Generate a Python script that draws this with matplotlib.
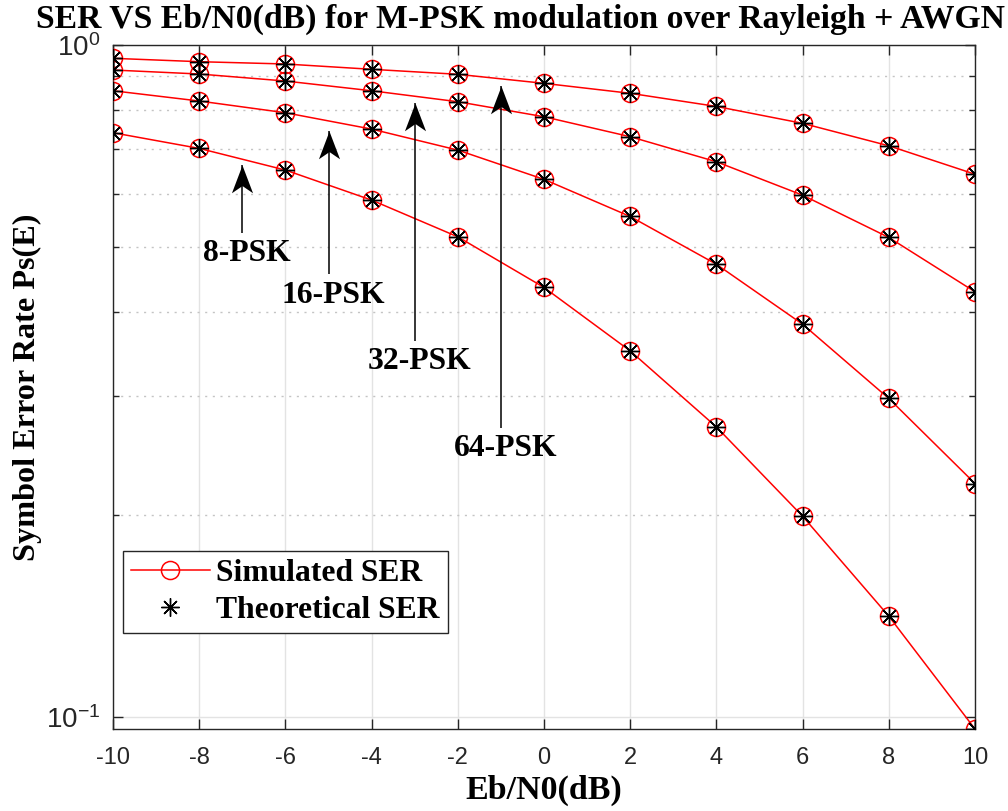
import numpy as np
import matplotlib
matplotlib.use("Agg")
import matplotlib.pyplot as plt
from matplotlib.path import Path
from matplotlib.ticker import LogLocator, NullFormatter, FixedLocator

plt.rcParams["axes.unicode_minus"] = False
plt.rcParams["mathtext.fontset"] = "custom"
plt.rcParams["mathtext.rm"] = "Liberation Sans"
plt.rcParams["mathtext.it"] = "Liberation Sans"
plt.rcParams["mathtext.bf"] = "Liberation Sans:bold"
plt.rcParams["mathtext.default"] = "regular"

# ---------------- data ----------------
ebn0_db = [-10, -8, -6, -4, -2, 0, 2, 4, 6, 8, 10]
ser_8psk = [0.7404, 0.7017, 0.6515, 0.5878, 0.5183, 0.4358, 0.3506, 0.2702, 0.1990, 0.1413, 0.0960]
ser_16psk = [0.8549, 0.8254, 0.7929, 0.7497, 0.6976, 0.6311, 0.5557, 0.4718, 0.3842, 0.2979, 0.2226]
ser_32psk = [0.9179, 0.9054, 0.8839, 0.8549, 0.8234, 0.7821, 0.7304, 0.6703, 0.5978, 0.5172, 0.4293]
ser_64psk = [0.9554, 0.9444, 0.9370, 0.9201, 0.9045, 0.8769, 0.8475, 0.8102, 0.7646, 0.7080, 0.6423]
series = [ser_8psk, ser_16psk, ser_32psk, ser_64psk]
mod_labels = ["8-PSK", "16-PSK", "32-PSK", "64-PSK"]
arrow_x = [-7, -5, -3, -1]
arrow_tip = [0.6630, 0.7446, 0.8188, 0.8690]
arrow_tail = [0.5255, 0.4560, 0.3625, 0.2688]
label_y = [0.4903, 0.4244, 0.3377, 0.2509]
x_ticks = [-10, -8, -6, -4, -2, 0, 2, 4, 6, 8, 10]

SERIF = "Liberation Serif"
SANS = "Liberation Sans"
FS = 22.8

fig = plt.figure(figsize=(10.08, 8.11), dpi=100)
ax = fig.add_axes([113/1008, 1-729/811, 862/1008, 684/811])
ax.set_yscale("log")

# grid
ax.set_axisbelow(True)
ax.grid(True, which="major", axis="x", color="#e3e3e3", lw=1.0, ls="-")
ax.grid(True, which="major", axis="y", color="#e3e3e3", lw=1.0, ls="-")
ax.grid(True, which="minor", axis="y", color="#c4c4c4", lw=1.0, ls=(0, (1.5, 4)))

for i, s in enumerate(series):
    ax.plot(ebn0_db, s, color="red", lw=1.1, marker="o", ms=13, mfc="none",
            mec="red", mew=1.1, label="Simulated SER" if i == 0 else None, zorder=3)
for i, s in enumerate(series):
    ax.plot(ebn0_db, s, ls="none", color="black", marker=(8, 2, 0), ms=13,
            mew=1.0, label="Theoretical SER" if i == 0 else None, zorder=4)

ax.set_xlim(-10, 10)
ymin = min(min(s) for s in series)
ax.set_ylim(ymin, 1.0)

ax.xaxis.set_major_locator(FixedLocator(x_ticks))
ax.yaxis.set_major_locator(LogLocator(base=10, numticks=10))
ax.yaxis.set_minor_locator(LogLocator(base=10, subs=np.arange(2, 10), numticks=20))
ax.yaxis.set_minor_formatter(NullFormatter())

ax.tick_params(axis="both", which="both", direction="in", top=True, right=True,
               colors="#262626", labelcolor="#262626")
ax.tick_params(axis="x", which="major", length=7, width=1.0, pad=13, labelsize=17)
ax.tick_params(axis="y", which="major", length=7, width=1.0, pad=9, labelsize=20)
ax.tick_params(axis="y", which="minor", length=4.5, width=1.0)
for lab in ax.get_xticklabels() + ax.get_yticklabels():
    lab.set_fontfamily(SANS)
for sp in ax.spines.values():
    sp.set_color("#262626")
    sp.set_linewidth(1.0)

# arrows (notched head marker)
head = Path([(0, 0), (-0.38, -1.0), (0, -0.74), (0.38, -1.0), (0, 0)],
            [Path.MOVETO, Path.LINETO, Path.LINETO, Path.LINETO, Path.CLOSEPOLY])
for xa, yt, yb, yl, lab in zip(arrow_x, arrow_tip, arrow_tail, label_y, mod_labels):
    ax.plot([xa, xa], [yb, yt], color="black", lw=1.1, zorder=5, solid_capstyle="butt")
    ax.plot([xa], [yt], ls="none", marker=head, ms=40, color="black", mec="black",
            mew=0, zorder=6)
    ax.text(xa + 0.1, yl, lab, ha="center", va="center", fontsize=FS,
            fontweight="bold", family=SERIF, zorder=6)

ax.set_xlabel("Eb/N0(dB)", fontsize=24.5, fontweight="bold", family=SERIF, labelpad=4)
ax.set_ylabel("Symbol Error Rate Ps(E)", fontsize=23.2, fontweight="bold", family=SERIF,
              labelpad=3)
fig.text(521/1008, 1-19/811, "SER VS Eb/N0(dB) for M-PSK modulation over Rayleigh + AWGN",
         ha="center", va="center", fontsize=24.3, fontweight="bold", family=SERIF)

leg = ax.legend(loc="lower left", bbox_to_anchor=(0.0116, 0.1404), borderaxespad=0,
                prop={"family": SERIF, "weight": "bold", "size": FS},
                handlelength=2.5, handletextpad=0.2, labelspacing=0.25,
                borderpad=0.25, fancybox=False, framealpha=1)
leg.get_frame().set_edgecolor("#262626")
leg.get_frame().set_linewidth(1.0)

fig.savefig("out.png", dpi=100)
